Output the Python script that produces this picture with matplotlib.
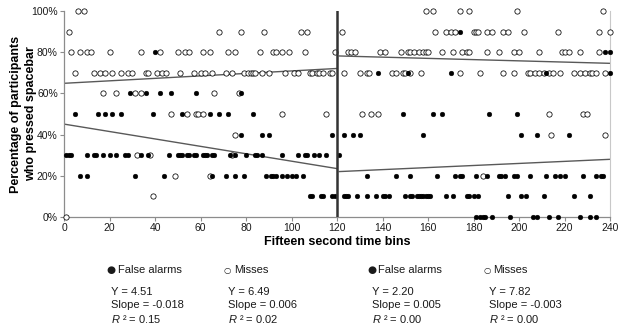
import numpy as np
import matplotlib
matplotlib.use("Agg")
import matplotlib.pyplot as plt

plt.rcParams['font.family'] = ['Liberation Sans', 'DejaVu Sans']
plt.rcParams['mathtext.fontset'] = 'custom'
plt.rcParams['mathtext.rm'] = 'Liberation Sans'
plt.rcParams['mathtext.it'] = 'Liberation Sans:italic'

# ---- data: time bins (x) at each percentage level ----
fa_at_90 = [174]
fa_at_80 = [40, 238, 240]
fa_at_70 = [138, 151, 170, 212, 240]
fa_at_60 = [29, 36, 42, 47, 58, 78]
fa_at_50 = [5, 15, 18, 21, 25, 39, 52, 64, 68, 72, 83, 149, 162, 166, 187, 199]
fa_at_40 = [78, 87, 90, 118, 123, 127, 130, 158, 201, 208, 222]
fa_at_30 = [1, 2, 3, 10, 13, 14, 17, 20, 23, 27, 28, 34, 37, 46, 50, 51, 52, 54, 55,
            57, 58, 61, 62, 63, 65, 66, 73, 75, 80, 84, 85, 87, 96, 103, 106, 107,
            110, 112, 115, 121]
fa_at_20 = [7, 10, 31, 44, 65, 71, 75, 79, 89, 91, 92, 93, 96, 98, 100, 102, 105, 133,
            146, 152, 164, 172, 174, 175, 181, 186, 191, 192, 194, 198, 199, 205, 212,
            216, 218, 220, 228, 234, 236, 237]
fa_at_10 = [108, 109, 113, 114, 118, 119, 123, 124, 125, 129, 133, 137, 140, 141, 143,
            150, 152, 153, 155, 156, 157, 158, 159, 160, 161, 168, 171, 177, 178, 180,
            182, 195, 201, 203, 211, 224, 231]
fa_at_0 = [181, 183, 184, 185, 188, 196, 206, 208, 213, 217, 227, 231, 234]

miss_at_100 = [6, 9, 159, 162, 174, 178, 199, 237]
miss_at_90 = [2, 68, 78, 88, 104, 107, 122, 163, 168, 170, 172, 180, 181, 182, 186, 188,
              193, 195, 202, 217, 235, 240]
miss_at_80 = [3, 7, 10, 12, 20, 34, 42, 50, 53, 55, 61, 64, 72, 75, 86, 92, 93, 96, 99,
              106, 119, 125, 126, 128, 139, 141, 148, 151, 152, 154, 156, 158, 159, 160,
              166, 171, 175, 177, 178, 186, 191, 198, 200, 209, 219, 220, 222, 227, 235]
miss_at_70 = [5, 13, 16, 18, 21, 25, 28, 30, 36, 37, 41, 43, 45, 51, 57, 60, 62, 65, 71,
              74, 79, 81, 82, 83, 84, 87, 90, 97, 101, 103, 108, 109, 111, 112, 114, 117,
              118, 123, 130, 133, 134, 144, 146, 149, 150, 152, 157, 174, 183, 193, 198,
              204, 205, 207, 209, 211, 213, 215, 218, 224, 227, 229, 231, 232, 234, 238]
miss_at_60 = [17, 23, 31, 34, 66, 77]
miss_at_50 = [47, 54, 58, 59, 61, 96, 115, 131, 135, 138, 213, 228, 230]
miss_at_40 = [75, 214, 238]
miss_at_30 = [32, 38, 74]
miss_at_20 = [49, 64, 184]
miss_at_10 = [39]
miss_at_0 = [1]

# regression parameters (participants, per bin), per half: FA-1, Miss-1, FA-2, Miss-2
reg_names = ["False alarms", "Misses", "False alarms", "Misses"]
reg_Y = [4.51, 6.49, 2.20, 7.82]
reg_slope = [-0.018, 0.006, 0.005, -0.003]
reg_r2 = [0.15, 0.02, 0.00, 0.00]
half_start = [0, 0, 120, 120]
half_end = [120, 120, 240, 240]

x_ticks = [0, 20, 40, 60, 80, 100, 120, 140, 160, 180, 200, 220, 240]
y_ticks = [0, 20, 40, 60, 80, 100]


def collect(levels):
    xs, ys = [], []
    for pct, bins in levels:
        xs += bins
        ys += [pct] * len(bins)
    return np.array(xs, float), np.array(ys, float)


fa_x, fa_y = collect([(90, fa_at_90), (80, fa_at_80), (70, fa_at_70), (60, fa_at_60),
                      (50, fa_at_50), (40, fa_at_40), (30, fa_at_30), (20, fa_at_20),
                      (10, fa_at_10), (0, fa_at_0)])
mi_x, mi_y = collect([(100, miss_at_100), (90, miss_at_90), (80, miss_at_80),
                      (70, miss_at_70), (60, miss_at_60), (50, miss_at_50),
                      (40, miss_at_40), (30, miss_at_30), (20, miss_at_20),
                      (10, miss_at_10), (0, miss_at_0)])

W, H = 624, 330
fig = plt.figure(figsize=(W / 100, H / 100), dpi=100)
ax = fig.add_axes([64 / W, 1 - 217 / H, 546 / W, 206 / H])

ax.plot(mi_x, mi_y, 'o', ms=3.8, mfc='white', mec='black', mew=0.55, ls='none',
        clip_on=False, zorder=3)
ax.plot(fa_x, fa_y, 'o', ms=3.4, mfc='black', mec='black', mew=0.3, ls='none',
        clip_on=False, zorder=4)

for Y, s, a, b in zip(reg_Y, reg_slope, half_start, half_end):
    xx = np.array([a + (1 if a > 0 else 0), b])
    yy = (Y + s * (xx - a)) * 10
    ax.plot(xx, yy, color='#595959', lw=1.0, zorder=2)

ax.axvline(120, color='#333333', lw=1.8, zorder=5)

ax.set_xlim(0, 240)
ax.set_ylim(0, 100)
ax.set_xticks(x_ticks)
ax.set_xticklabels([str(t) for t in x_ticks])
ax.set_yticks(y_ticks)
ax.set_yticklabels([f"{t}%" for t in y_ticks])
ax.tick_params(axis='both', labelsize=7.5, colors='#8c8c8c', labelcolor='#1a1a1a',
               length=3, width=0.8, pad=1.5)

ax.spines['top'].set_visible(False)
ax.spines['right'].set_color('#c8c8c8')
ax.spines['right'].set_linewidth(0.8)
for sp in ('left', 'bottom'):
    ax.spines[sp].set_color('#8c8c8c')
    ax.spines[sp].set_linewidth(0.9)

ax.set_xlabel("Fifteen second time bins", fontsize=9, fontweight='bold', labelpad=2)
ax.set_ylabel("Percentage of participants\nwho pressed spacebar", fontsize=9,
              fontweight='bold', linespacing=1.25)
ax.yaxis.set_label_coords(-0.05, 0.5)

# stats block under the chart
col_marker_x = [110.7, 226.7, 371.7, 486.7]
col_label_x = [118.3, 234.3, 378.3, 492.7]
col_stat_x = [111, 227.7, 372.3, 489]
txtc = '#1a1a1a'
for i in range(4):
    is_fa = reg_names[i] == "False alarms"
    fig.text(col_marker_x[i] / W, 1 - 270 / H, '●' if is_fa else '○',
             fontsize=7.5 if is_fa else 6, ha='center', va='center', color=txtc,
             family=['DejaVu Sans'])
    fig.text(col_label_x[i] / W, 1 - 270 / H, reg_names[i], fontsize=8,
             ha='left', va='center', color=txtc)
    fig.text(col_stat_x[i] / W, 1 - 291.7 / H, f"Y = {reg_Y[i]:.2f}", fontsize=8,
             ha='left', va='center', color=txtc)
    sl = f"{reg_slope[i]:.3f}"
    fig.text(col_stat_x[i] / W, 1 - 305 / H, f"Slope = {sl}", fontsize=8,
             ha='left', va='center', color=txtc)
    fig.text(col_stat_x[i] / W, 1 - 319.3 / H, f"$R$ ² = {reg_r2[i]:.2f}", fontsize=8,
             ha='left', va='center', color=txtc)

fig.savefig("out.png", dpi=100)
